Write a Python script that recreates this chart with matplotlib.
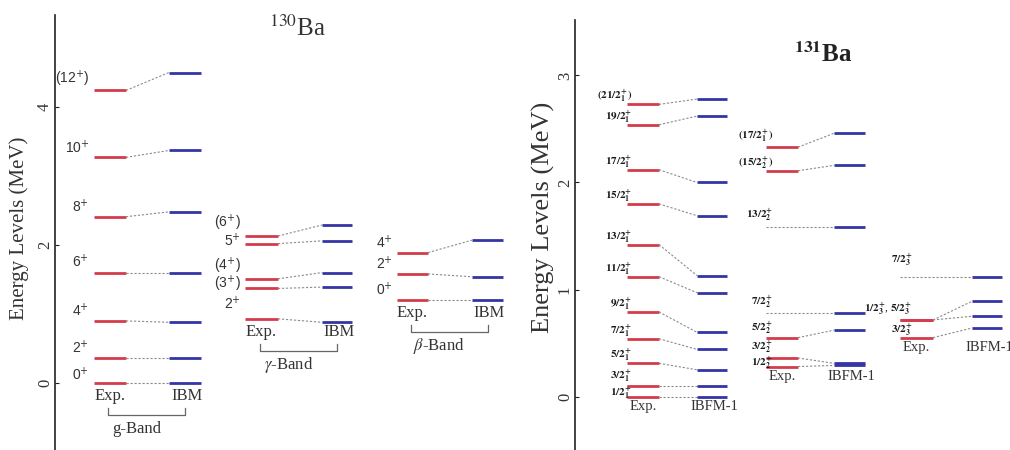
import matplotlib

matplotlib.use("Agg")

import matplotlib.pyplot as plt
import numpy as np

plt.rcParams["font.family"] = ["Liberation Serif", "DejaVu Serif"]
plt.rcParams["mathtext.fontset"] = "stix"

RED = "#d43c4c"
BLUE = "#3434a6"
DOT = "#8c8c8c"
INK = "#333333"
NAN = np.nan

# ── 130Ba levels (MeV) ───────────────────────────────────────────────────────
G_SPINS = ["0", "2", "4", "6", "8", "10", "(12)"]
G_EXP = [0.00, 0.36, 0.90, 1.60, 2.41, 3.27, 4.24]
G_IBM = [0.00, 0.36, 0.88, 1.60, 2.48, 3.37, 4.50]

GAM_SPINS = ["2", "(3)", "(4)", "5", "(6)"]
GAM_EXP = [0.93, 1.37, 1.51, 2.02, 2.13]
GAM_IBM = [0.88, 1.39, 1.60, 2.06, 2.29]

BETA_SPINS = ["0", "2", "4"]
BETA_EXP = [1.21, 1.58, 1.89]
BETA_IBM = [1.21, 1.54, 2.07]

# ── 131Ba levels (MeV), NaN = not observed ──────────────────────────────────
B1_SPINS = ["1/2", "3/2", "5/2", "7/2", "9/2", "11/2", "13/2", "15/2", "17/2", "19/2", "(21/2)"]
B1_IDX = [1, 1, 1, 1, 1, 1, 1, 1, 1, 1, 1]
B1_EXP = [0.00, 0.10, 0.31, 0.54, 0.79, 1.12, 1.42, 1.80, 2.12, 2.54, 2.73]
B1_IBFM = [0.00, 0.10, 0.25, 0.44, 0.60, 0.97, 1.13, 1.69, 2.00, 2.62, 2.78]

B2_SPINS = ["1/2", "3/2", "5/2", "7/2", "13/2", "(15/2)", "(17/2)"]
B2_IDX = [2, 2, 2, 2, 2, 2, 1]
B2_EXP = [0.28, 0.36, 0.55, NAN, NAN, 2.11, 2.33]
B2_IBFM = [0.29, 0.31, 0.62, 0.785, 1.58, 2.16, 2.46]

B3_SPINS = ["3/2", "1/2, 5/2", "", "7/2"]
B3_IDX = [3, 3, 3, 3]
B3_EXP = [0.55, 0.715, 0.715, NAN]
B3_IBFM = [0.64, 0.75, 0.89, 1.12]

W, H = 1010, 450


def sans_label(spin):
    core = spin.strip("()")
    s = core + r"$^{+}$"
    return "(" + s + ")" if spin.startswith("(") else s


def half_label(spin, k):
    if not spin:
        return ""
    parts = []
    for sp in spin.split(", "):
        core = sp.strip("()")
        s = r"\mathbf{%s}_{\mathbf{%d}}^{\mathbf{+}}" % (core, k)
        if sp.startswith("("):
            s = r"\mathbf{(}" + s + r"\mathbf{)}"
        parts.append("$" + s + "$")
    return ", ".join(parts)


def mev_per_px(ax):
    lo, hi = ax.get_ylim()
    return (hi - lo) / (ax.get_position().height * H)


def draw_band(ax, exp, th, labels, cols, lab_kw, lab_dx, lab_dy):
    x0, x1, t0, t1 = cols
    for e, t, lab, dy in zip(exp, th, labels, lab_dy):
        if np.isnan(e):
            ax.plot([x0, t0], [t, t], color=DOT, lw=0.8, ls=(0, (2, 1.6)))
            ey = t
        else:
            ax.plot([x0, x1], [e, e], color=RED, lw=2.0, solid_capstyle="butt")
            ax.plot([x1, t0], [e, t], color=DOT, lw=0.8, ls=(0, (2, 1.6)))
            ey = e
        ax.plot([t0, t1], [t, t], color=BLUE, lw=2.0, solid_capstyle="butt")
        if lab:
            ax.annotate(lab, xy=(x0, ey), xytext=(lab_dx, dy), textcoords="offset points",
                        ha="right", va="bottom", **lab_kw)


def col_labels(ax, cols, base, names, size, dy_px):
    x0, x1, t0, t1 = cols
    m = mev_per_px(ax)
    y = base - dy_px * m
    ax.text((x0 + x1) / 2, y, names[0], ha="center", va="center", fontsize=size, color=INK)
    ax.text((t0 + t1) / 2 + 2, y, names[1], ha="center", va="center", fontsize=size, color=INK)


def bracket(ax, cols, base, name):
    x0, x1, t0, t1 = cols
    m = mev_per_px(ax)
    xa, xb = (x0 + x1) / 2 - 2, (t0 + t1) / 2
    ytop, ybot = base - 25 * m, base - 32 * m
    ax.plot([xa, xa, xb, xb], [ytop, ybot, ybot, ytop], color="#666666", lw=0.9)
    ax.text((xa + xb) / 2 - 10, base - 46 * m, name, ha="center", va="center",
            fontsize=12, color=INK)


def setup_axis(ax, x_range, ylim, ticks, tick_size):
    ax.set_xlim(*x_range)
    ax.set_ylim(*ylim)
    ax.patch.set_visible(False)
    for side in ("top", "right", "bottom"):
        ax.spines[side].set_visible(False)
    ax.spines["left"].set_color("#222222")
    ax.spines["left"].set_linewidth(1.2)
    ax.set_xticks([])
    ax.set_yticks(ticks)
    ax.set_yticklabels([str(t) for t in ticks], rotation=90, va="center",
                       fontsize=tick_size, color=INK)
    ax.tick_params(axis="y", direction="in", length=3, pad=1.5, color="#222222")


fig = plt.figure(figsize=(W / 100, H / 100), dpi=100)

# ── left panel: 130Ba ───────────────────────────────────────────────────────
ax1 = fig.add_axes([55 / W, 0, (545 - 55) / W, 435 / H])
setup_axis(ax1, (55, 545), (-67 / 69, (435 - 67) / 69), [0, 2, 4], 12)
ax1.set_ylabel("Energy Levels (MeV)", fontsize=15, color=INK)
ax1.yaxis.set_label_coords((29 - 55) / 490, 0.51)

sans_kw = dict(fontsize=10, family="Liberation Sans", math_fontfamily="dejavusans", color=INK)
G_COLS = (94, 126, 169, 201)
GAM_COLS = (245, 278, 322, 352)
BETA_COLS = (397, 428, 472, 503)

draw_band(ax1, G_EXP, G_IBM, [sans_label(s) for s in G_SPINS], G_COLS, sans_kw, -3.5,
          [0, 1, 1, 2, 1, 1, 1])
draw_band(ax1, GAM_EXP, GAM_IBM, [sans_label(s) for s in GAM_SPINS], GAM_COLS, sans_kw, -3,
          [5, -4, 2, -4, 2])
draw_band(ax1, BETA_EXP, BETA_IBM, [sans_label(s) for s in BETA_SPINS], BETA_COLS, sans_kw, -3,
          [1, 1, 1])

for cols, base, name in [(G_COLS, min(G_EXP), "g-Band"), (GAM_COLS, min(GAM_EXP), r"$\gamma$-Band"),
                         (BETA_COLS, min(BETA_EXP), r"$\beta$-Band")]:
    col_labels(ax1, cols, base, ("Exp.", "IBM"), 12, 13)
    bracket(ax1, cols, base, name)

fig.text(298 / W, 1 - 28 / H, r"$^{130}$Ba", ha="center", va="center", fontsize=18, color=INK)

# ── right panel: 131Ba ──────────────────────────────────────────────────────
ax2 = fig.add_axes([575 / W, 0, (1010 - 575) / W, 430 / H])
setup_axis(ax2, (575, 1010), (-53.5 / 107, (430 - 53.5) / 107), [0, 1, 2, 3], 12)
ax2.set_ylabel("Energy Levels (MeV)", fontsize=19, color=INK)
ax2.yaxis.set_label_coords((555 - 575) / 435, 0.54)

serif_kw = dict(fontsize=8, color="#1a1a1a")
B1_COLS = (627, 659, 697, 727)
B2_COLS = (766, 798, 834, 865)
B3_COLS = (900, 933, 972, 1002)

draw_band(ax2, B1_EXP, B1_IBFM, [half_label(s, k) for s, k in zip(B1_SPINS, B1_IDX)],
          B1_COLS, serif_kw, 3.5, [-3, 1, 0, 0, 0, 0, 0, 0, 0, 0, 0])
draw_band(ax2, B2_EXP, B2_IBFM, [half_label(s, k) for s, k in zip(B2_SPINS, B2_IDX)],
          B2_COLS, serif_kw, 5, [-3, 2, 1, 2, 3, 0, 2])
draw_band(ax2, B3_EXP, B3_IBFM, [half_label(s, k) for s, k in zip(B3_SPINS, B3_IDX)],
          B3_COLS, serif_kw, 9, [0, 2, 0, 6])

for cols, base in [(B1_COLS, min(B1_EXP)), (B2_COLS, np.nanmin(B2_EXP)), (B3_COLS, np.nanmin(B3_EXP))]:
    col_labels(ax2, cols, base, ("Exp.", "IBFM-1"), 10.5, 10)

fig.text(823 / W, 1 - 55 / H, r"$^{\mathbf{131}}$Ba", ha="center", va="center", fontsize=18,
         fontweight="bold", color="#222222")

fig.savefig("out.png", dpi=100, facecolor="white")
